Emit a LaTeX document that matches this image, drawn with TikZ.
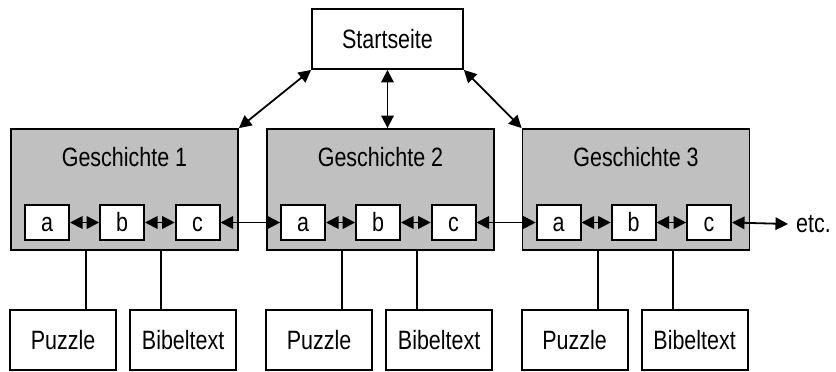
\documentclass[tikz,border=0pt]{standalone}
\usepackage{fontspec}
\usepackage{graphicx}
\setmainfont{Liberation Sans}
\usetikzlibrary{arrows.meta}
\newcommand\narrowtxt[1]{\scalebox{0.81}[1]{#1}}
\definecolor{storygray}{HTML}{C0C0C0}
\tikzset{
  box/.style={draw, line width=1.8pt, inner sep=0pt, fill=white,
    font=\fontsize{26.5}{30}\selectfont},
  story/.style={box, fill=storygray, minimum width=227pt, minimum height=121pt},
  page/.style={box, minimum width=44pt, minimum height=35pt,
    text height=17pt, text depth=0pt},
  leaf/.style={box, minimum width=106pt, minimum height=60pt},
  title/.style={inner sep=0pt, font=\fontsize{26.5}{30}\selectfont},
  link/.style={line width=1.8pt, {Triangle[length=12.5pt,width=12.5pt]}-{Triangle[length=12.5pt,width=12.5pt]}},
  wire/.style={line width=1.8pt}
}
\begin{document}
\begin{tikzpicture}[x=1pt,y=-1pt]
\useasboundingbox (0,0) rectangle (836,372);

% start page
\node[box, minimum width=151pt, minimum height=60pt] (s) at (387.5,39) {\narrowtxt{Startseite}};

% three stories with their pages and attachments
\foreach \i/\x in {1/124.5, 2/380.5, 3/636} {
  \node[story] (g\i) at (\x,189.5) {};
  \node[title] (t\i) at (\x,157) {\narrowtxt{Geschichte \i}};
  \node[page] (a\i) at ([xshift=37pt]g\i.west |- 0,222.5) {\narrowtxt{a}};
  \node[page] (b\i) at ([xshift=112pt]g\i.west |- 0,222.5) {\narrowtxt{b}};
  \node[page] (c\i) at ([xshift=187.5pt]g\i.west |- 0,222.5) {\narrowtxt{c}};
  \node[leaf] (p\i) at ([xshift=53pt]g\i.west |- 0,340) {\narrowtxt{Puzzle}};
  \node[leaf] (q\i) at ([xshift=173pt]g\i.west |- 0,340) {\narrowtxt{Bibeltext}};
  \draw[link] (a\i) -- (b\i);
  \draw[link] (b\i) -- (c\i);
  \draw[wire] ([xshift=76pt]g\i.south west) -- ([xshift=76pt]g\i.south west |- p\i.north);
  \draw[wire] ([xshift=151pt]g\i.south west) -- ([xshift=151pt]g\i.south west |- q\i.north);
}

\node[title, anchor=west, inner xsep=8pt] (etc) at (788,224) {\narrowtxt{etc.}};

% links between stories
\draw[link] (c1) -- (a2);
\draw[link] (c2) -- (a3);
\draw[link] (c3.east) -- (etc.west);

% links to the start page
\draw[link] (s.south west) -- (g1.north east);
\draw[link] (s.south) -- (s.south |- g2.north);
\draw[link] (s.south east) -- (g3.north west);
\end{tikzpicture}
\end{document}
